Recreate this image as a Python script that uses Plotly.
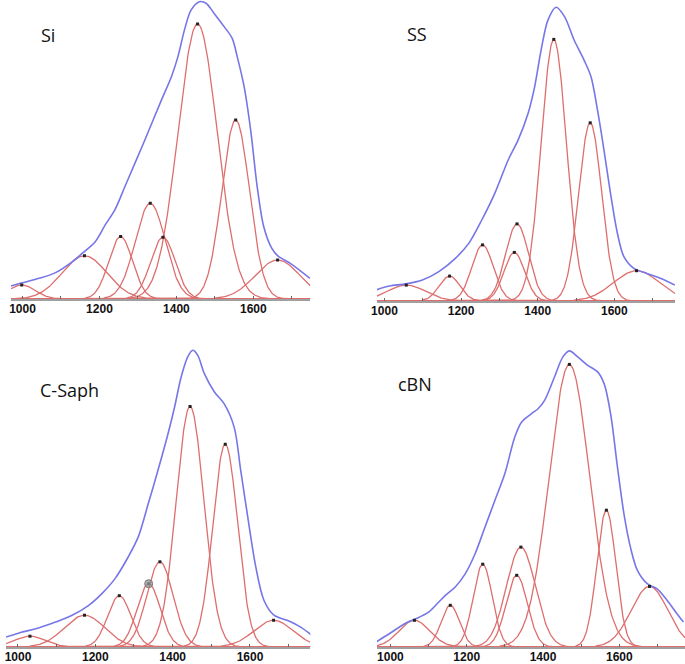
import numpy as np
import plotly.graph_objects as go

# ---------------- data ----------------
panel_names = ["Si", "SS", "C-Saph", "cBN"]

# fitted component peaks: centre (cm-1), height (a.u.), sigma (cm-1)
si_centers = [998, 1161, 1255, 1332, 1365, 1455, 1554, 1663]
si_heights = [4.7, 14.4, 20.8, 31.9, 20.6, 91.7, 59.7, 13.0]
si_sigmas = [35, 58, 31, 39, 32, 51, 36, 58]

ss_centers = [1057, 1170, 1256, 1346, 1339, 1442, 1537, 1658]
ss_heights = [5.3, 8.3, 18.7, 25.7, 16.2, 87.2, 59.4, 10.1]
ss_sigmas = [50, 27, 28, 30, 27, 33, 30, 60]

cs_centers = [1031, 1172, 1262, 1338, 1367, 1445, 1536, 1661]
cs_heights = [3.6, 10.6, 17.1, 21.1, 28.4, 80.2, 67.6, 8.9]
cs_sigmas = [40, 52, 30, 30, 34, 36, 32, 51]

cb_centers = [1063, 1157, 1242, 1342, 1331, 1469, 1566, 1679]
cb_heights = [8.9, 13.9, 27.6, 33.3, 23.9, 94.2, 45.6, 20.2]
cb_sigmas = [40, 24, 25, 38, 28, 53, 25, 48]

# measured spectrum envelope (blue)
si_env_x = [970, 1000, 1043, 1086, 1129, 1155, 1189, 1215, 1240, 1266, 1292, 1318, 1361,
            1387, 1404, 1421, 1438, 1460, 1477, 1498, 1524, 1545, 1558, 1576, 1593, 1610,
            1627, 1648, 1666, 1696, 1747]
si_env_y = [4.3, 5.4, 6.9, 8.8, 12.4, 15.2, 19.1, 24.7, 29.7, 37.4, 45.2, 53.0, 66.3,
            74.1, 80.8, 89.7, 96.3, 99.1, 98.6, 95.2, 90.8, 86.9, 80.8, 70.8, 56.3, 37.4,
            24.1, 16.9, 14.1, 11.9, 6.9]

ss_env_x = [978, 1013, 1056, 1099, 1142, 1185, 1220, 1254, 1288, 1323, 1349, 1375, 1392,
            1409, 1427, 1448, 1470, 1495, 1521, 1539, 1556, 1573, 1590, 1608, 1625, 1651,
            1685, 1720, 1758]
ss_env_y = [3.7, 5.0, 5.7, 7.0, 9.8, 14.2, 19.2, 27.0, 35.9, 47.0, 53.7, 62.6, 71.4,
            83.7, 93.7, 97.9, 94.8, 87.0, 80.3, 74.8, 63.7, 50.3, 35.9, 22.6, 14.8, 10.9,
            9.2, 7.6, 5.3]

cs_env_x = [969, 1003, 1055, 1097, 1140, 1183, 1217, 1251, 1285, 1311, 1337, 1362, 1388,
            1405, 1422, 1439, 1452, 1465, 1482, 1508, 1533, 1559, 1576, 1593, 1615, 1636,
            1662, 1696, 1730, 1760]
cs_env_y = [3.3, 4.7, 6.4, 8.3, 10.6, 13.9, 17.8, 22.8, 30.0, 36.7, 47.8, 58.9, 71.1,
            80.0, 90.0, 96.7, 98.9, 97.2, 91.1, 85.0, 81.1, 73.3, 58.9, 44.4, 26.7, 15.6,
            10.6, 8.9, 6.7, 3.9]

cb_env_x = [963, 997, 1041, 1067, 1101, 1127, 1144, 1170, 1196, 1222, 1248, 1274, 1300,
            1326, 1344, 1370, 1387, 1404, 1430, 1452, 1469, 1491, 1517, 1543, 1560, 1577,
            1595, 1612, 1629, 1647, 1673, 1699, 1725, 1751, 1768]
cb_env_y = [1.7, 4.4, 8.0, 9.4, 11.7, 15.0, 17.2, 20.0, 24.4, 31.1, 40.0, 48.9, 57.8,
            70.0, 75.0, 77.8, 79.4, 82.2, 90.0, 96.7, 98.7, 96.7, 93.9, 91.7, 87.8, 77.8,
            60.0, 44.4, 33.3, 25.6, 21.1, 19.4, 15.6, 11.1, 8.3]

# highlighted (selected) component index per panel, None if none
selected = [None, None, 3, None]

tick_vals = [1000, 1100, 1200, 1300, 1400, 1500, 1600, 1700]
tick_text = ["1000", "", "1200", "", "1400", "", "1600", ""]

# ---------------- layout (pixel geometry of the 685x664 picture) ----------------
W, H = 685, 664
# (x_left_px, x_right_px, axis_y_px, top_y_px, xmin, xmax)
geom = [
    (5, 307, 299, 0, 970, 1748),
    (374.3, 675, 301, 0, 980.6, 1758.6),
    (0, 307, 647, 340, 969, 1756),
    (374.3, 685, 647, 340, 965, 1772),
]
label_pos = [(42, 35), (415, 34), (64, 390), (413, 384)]

comps = [
    (si_centers, si_heights, si_sigmas, si_env_x, si_env_y),
    (ss_centers, ss_heights, ss_sigmas, ss_env_x, ss_env_y),
    (cs_centers, cs_heights, cs_sigmas, cs_env_x, cs_env_y),
    (cb_centers, cb_heights, cb_sigmas, cb_env_x, cb_env_y),
]

RED = "#de6e6e"
BLUE = "#7676e8"

fig = go.Figure()
layout = dict(
    width=W, height=H, margin=dict(l=0, r=0, t=0, b=0),
    paper_bgcolor="white", plot_bgcolor="white", showlegend=False,
)
annotations = []

for i, (g, c) in enumerate(zip(geom, comps)):
    xl, xr, ay, ty, xmin, xmax = g
    centers, heights, sigmas, ex, ey = c
    n = "" if i == 0 else str(i + 1)
    xa, ya = "x" + n, "y" + n
    grid = np.linspace(xmin, xmax, 500)
    for cen, hgt, sig in zip(centers, heights, sigmas):
        yy = hgt * np.exp(-0.5 * ((grid - cen) / sig) ** 2)
        fig.add_trace(go.Scatter(x=grid, y=yy, mode="lines", xaxis=xa, yaxis=ya,
                                 line=dict(color=RED, width=1.3), hoverinfo="skip"))
    fig.add_trace(go.Scatter(x=ex, y=ey, mode="lines", xaxis=xa, yaxis=ya,
                             line=dict(color=BLUE, width=1.6, shape="spline", smoothing=0.9),
                             hoverinfo="skip"))
    fig.add_trace(go.Scatter(x=centers, y=heights, mode="markers", xaxis=xa, yaxis=ya,
                             marker=dict(color="#222", size=3, symbol="square"),
                             hoverinfo="skip"))
    if selected[i] is not None:
        k = selected[i]
        fig.add_trace(go.Scatter(x=[centers[k]], y=[heights[k]], mode="markers",
                                 xaxis=xa, yaxis=ya,
                                 marker=dict(color="rgba(150,150,150,0.75)", size=8,
                                             line=dict(color="#777", width=1)),
                                 hoverinfo="skip"))
    yrange_top = (ay - ty) / 3.0
    layout["xaxis" + n] = dict(
        domain=[xl / W, xr / W], range=[xmin, xmax], anchor=ya,
        showgrid=False, zeroline=False, showline=True, linecolor="#a0a0a0", linewidth=2,
        ticks="inside", ticklen=3, tickcolor="#666", tickvals=tick_vals, ticktext=tick_text,
        tickfont=dict(family="Liberation Sans", size=12, color="#111", weight="bold"),
        ticklabelstandoff=-2,
        fixedrange=True,
    )
    layout["yaxis" + n] = dict(
        domain=[(H - ay) / H, (H - ty) / H], range=[0, yrange_top], anchor=xa,
        visible=False, fixedrange=True,
    )
    lx, ly = label_pos[i]
    annotations.append(dict(
        text=panel_names[i], x=lx / W, y=1 - ly / H, xref="paper", yref="paper",
        xanchor="center", yanchor="middle", showarrow=False,
        font=dict(family="Open Sans", size=18, color="#111"),
    ))

layout["annotations"] = annotations
fig.update_layout(**layout)
fig.write_html(
    "out.html",
    config={"displayModeBar": False},
    post_script="document.body.style.margin='0';document.body.style.overflow='hidden';",
)
